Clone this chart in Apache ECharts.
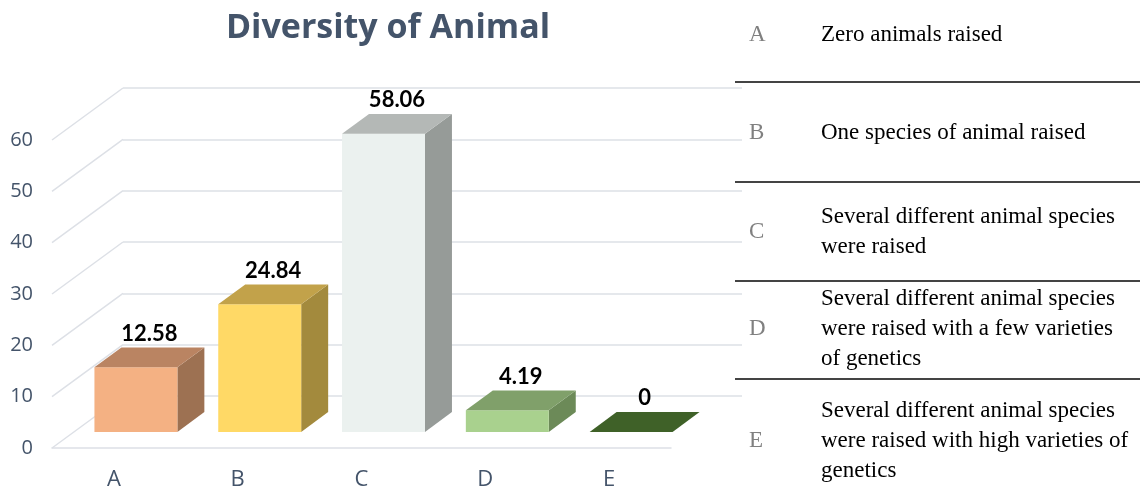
<!DOCTYPE html>
<html>
<head>
<meta charset="utf-8">
<script src="https://cdn.jsdelivr.net/npm/echarts@6/dist/echarts.min.js"></script>
<style>
  html, body { margin: 0; padding: 0; background: #fff; }
  #main { width: 1140px; height: 500px; }
</style>
</head>
<body>
<div id="main"></div>
<script>
var categories = ['A', 'B', 'C', 'D', 'E'];
var values = [12.58, 24.84, 58.06, 4.19, 0];
var yTicks = [0, 10, 20, 30, 40, 50, 60];
var descriptions = [
  'Zero animals raised',
  'One species of animal raised',
  'Several different animal species\nwere raised',
  'Several different animal species\nwere raised with a few varieties\nof genetics',
  'Several different animal species\nwere raised with high varieties of\ngenetics'
];

var frontColors = ['#F4B183', '#FFD966', '#EBF1EF', '#A9D18E', '#548235'];
var topColors   = ['#BA8462', '#C2A24A', '#B4B8B6', '#80A06A', '#3F6128'];
var sideColors  = ['#9D7152', '#A38A3D', '#969B98', '#6C8A58', '#34511F'];

// depth of the 3d box (front plane -> back wall)
var DX = 71, DY = -52;
var FRONT = 0.31, BACK = 0.69;

var chart = echarts.init(document.getElementById('main'));

function renderSide(params, api) {
  // diagonal lines on the left floor/wall edge
  var p = api.coord([0, api.value(0)]);
  var x0 = params.coordSys.x;
  return {
    type: 'line',
    shape: { x1: x0, y1: p[1], x2: x0 + DX, y2: p[1] + DY },
    style: { stroke: '#DDE0E6', lineWidth: 1.5 }
  };
}

function renderBar(params, api) {
  var i = api.value(0), v = api.value(1);
  var base = api.coord([i, 0]);
  var top = api.coord([i, v]);
  var w = api.size([1, 0])[0] * 0.67;
  var x1 = base[0] - w / 2 + FRONT * DX;
  var x2 = x1 + w;
  var yb = base[1] + FRONT * DY;
  var yt = top[1] + FRONT * DY;
  var bx = (BACK - FRONT) * DX, by = (BACK - FRONT) * DY;
  var children = [];
  if (v > 0) {
    children.push({
      type: 'polygon',
      shape: { points: [[x2, yt], [x2 + bx, yt + by], [x2 + bx, yb + by], [x2, yb]] },
      style: { fill: sideColors[i] }
    });
    children.push({
      type: 'rect',
      shape: { x: x1, y: yt, width: w, height: yb - yt },
      style: { fill: frontColors[i] }
    });
  }
  children.push({
    type: 'polygon',
    shape: { points: [[x1, yt], [x2, yt], [x2 + bx, yt + by], [x1 + bx, yt + by]] },
    style: { fill: topColors[i] }
  });
  children.push({
    type: 'text',
    style: {
      text: String(v),
      x: (x1 + x2) / 2 + bx / 2,
      y: yt + by - 14,
      align: 'center',
      verticalAlign: 'middle',
      font: 'bold 22px Lato',
      fill: '#000'
    }
  });
  return { type: 'group', children: children };
}

// right hand table
var rowCenters = [35, 133, 232, 329, 441];
var rowLines = [82, 182, 281, 379];
var graphics = [];
for (var r = 0; r < categories.length; r++) {
  graphics.push({
    type: 'text', left: 749, top: rowCenters[r] - 12,
    style: { text: categories[r], font: '23px "Liberation Serif"', fill: '#808080' }
  });
  var nLines = descriptions[r].split('\n').length;
  graphics.push({
    type: 'text', left: 821, top: rowCenters[r] - nLines * 30 / 2,
    style: { text: descriptions[r], font: '23px "Liberation Serif"', lineHeight: 30, fill: '#000' }
  });
}
for (var k = 0; k < rowLines.length; k++) {
  graphics.push({
    type: 'line',
    shape: { x1: 735, y1: rowLines[k], x2: 1140, y2: rowLines[k] },
    style: { stroke: '#444', lineWidth: 2 }
  });
}

var option = {
  animation: false,
  title: {
    text: 'Diversity of Animal',
    left: 383,
    top: 6,
    textAlign: 'center',
    textStyle: { fontFamily: 'Open Sans', fontWeight: 'bold', fontSize: 34, color: '#44546A' }
  },
  grid: [
    { left: 52, width: 619, top: 140, height: 308 },   // front plane
    { left: 52 + DX, width: 619, top: 140 + DY, height: 308 }  // back wall
  ],
  xAxis: [
    {
      type: 'category', gridIndex: 0, data: categories,
      axisLine: { lineStyle: { color: '#DDE0E6', width: 1.5 } },
      axisTick: { show: false },
      axisLabel: { margin: 21, fontFamily: 'Open Sans', fontSize: 22, color: '#44546A' }
    },
    { type: 'category', gridIndex: 1, data: categories, show: false }
  ],
  yAxis: [
    {
      type: 'value', gridIndex: 0, min: 0, max: 60, interval: 10,
      axisLine: { show: false }, axisTick: { show: false },
      splitLine: { show: false },
      axisLabel: { margin: 19, fontFamily: 'Open Sans', fontSize: 20, color: '#44546A' }
    },
    {
      type: 'value', gridIndex: 1, min: 0, max: 60, interval: 10,
      axisLine: { show: false }, axisTick: { show: false },
      axisLabel: { show: false },
      splitLine: { lineStyle: { color: '#DDE0E6', width: 1.5 } }
    }
  ],
  graphic: graphics,
  series: [
    {
      type: 'custom', xAxisIndex: 0, yAxisIndex: 0, z: 1,
      renderItem: renderSide,
      data: yTicks.map(function (t) { return [t]; })
    },
    {
      type: 'custom', xAxisIndex: 0, yAxisIndex: 0, z: 5,
      renderItem: renderBar,
      data: values.map(function (v, i) { return [i, v]; })
    }
  ]
};
chart.setOption(option);
</script>
</body>
</html>
